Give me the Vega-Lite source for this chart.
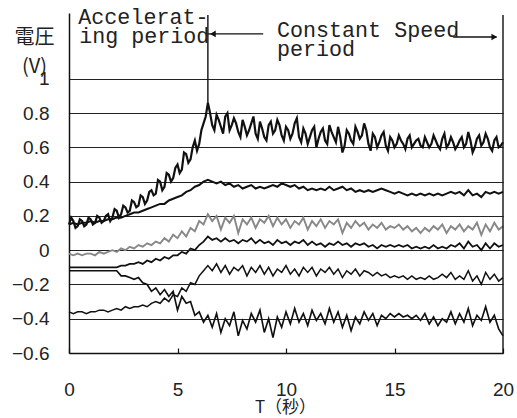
{
"$schema": "https://vega.github.io/schema/vega-lite/v6.json",
"width": 434, "height": 340,
"autosize": {"type": "none"},
"padding": {"left": 69, "top": 13, "right": 14, "bottom": 65},
"background": "white",
"config": {"view": {"stroke": null}, "axis": {"labelFont": "Liberation Sans", "labelColor": "#222"}},
"datasets": {
"sig": [
{"t":0,"A":0.15,"B":0.15,"C":-0.02,"D":-0.1,"E":-0.12,"F":-0.36},
{"t":0.2,"A":0.17,"B":0.16,"C":-0.03,"D":-0.1,"E":-0.12,"F":-0.37},
{"t":0.4,"A":0.14,"B":0.15,"C":-0.02,"D":-0.1,"E":-0.12,"F":-0.36},
{"t":0.6,"A":0.17,"B":0.16,"C":-0.03,"D":-0.1,"E":-0.12,"F":-0.36},
{"t":0.8,"A":0.15,"B":0.16,"C":-0.02,"D":-0.1,"E":-0.12,"F":-0.37},
{"t":1.0,"A":0.18,"B":0.17,"C":-0.02,"D":-0.1,"E":-0.12,"F":-0.36},
{"t":1.2,"A":0.16,"B":0.16,"C":-0.03,"D":-0.1,"E":-0.12,"F":-0.36},
{"t":1.4,"A":0.19,"B":0.17,"C":-0.01,"D":-0.1,"E":-0.12,"F":-0.35},
{"t":1.6,"A":0.17,"B":0.17,"C":-0.02,"D":-0.1,"E":-0.12,"F":-0.35},
{"t":1.8,"A":0.21,"B":0.18,"C":-0.01,"D":-0.1,"E":-0.12,"F":-0.36},
{"t":2.0,"A":0.19,"B":0.18,"C":0.0,"D":-0.1,"E":-0.12,"F":-0.35},
{"t":2.2,"A":0.23,"B":0.19,"C":-0.01,"D":-0.1,"E":-0.12,"F":-0.34},
{"t":2.4,"A":0.21,"B":0.19,"C":0.01,"D":-0.09,"E":-0.15,"F":-0.35},
{"t":2.6,"A":0.25,"B":0.2,"C":0.0,"D":-0.09,"E":-0.15,"F":-0.33},
{"t":2.8,"A":0.23,"B":0.21,"C":0.02,"D":-0.08,"E":-0.16,"F":-0.34},
{"t":3.0,"A":0.28,"B":0.22,"C":0.01,"D":-0.08,"E":-0.17,"F":-0.33},
{"t":3.2,"A":0.26,"B":0.22,"C":0.03,"D":-0.07,"E":-0.16,"F":-0.33},
{"t":3.4,"A":0.31,"B":0.23,"C":0.02,"D":-0.08,"E":-0.19,"F":-0.32},
{"t":3.6,"A":0.29,"B":0.24,"C":0.04,"D":-0.06,"E":-0.2,"F":-0.33},
{"t":3.8,"A":0.35,"B":0.25,"C":0.03,"D":-0.07,"E":-0.24,"F":-0.31},
{"t":4.0,"A":0.33,"B":0.26,"C":0.05,"D":-0.05,"E":-0.22,"F":-0.3},
{"t":4.2,"A":0.4,"B":0.27,"C":0.04,"D":-0.06,"E":-0.26,"F":-0.31},
{"t":4.4,"A":0.37,"B":0.27,"C":0.07,"D":-0.04,"E":-0.23,"F":-0.28},
{"t":4.6,"A":0.44,"B":0.29,"C":0.05,"D":-0.05,"E":-0.27,"F":-0.3},
{"t":4.8,"A":0.42,"B":0.3,"C":0.09,"D":-0.03,"E":-0.24,"F":-0.26},
{"t":5.0,"A":0.5,"B":0.31,"C":0.07,"D":-0.03,"E":-0.35,"F":-0.27},
{"t":5.2,"A":0.47,"B":0.32,"C":0.11,"D":-0.01,"E":-0.27,"F":-0.22},
{"t":5.4,"A":0.56,"B":0.34,"C":0.08,"D":-0.02,"E":-0.31,"F":-0.24},
{"t":5.6,"A":0.53,"B":0.35,"C":0.13,"D":0.01,"E":-0.3,"F":-0.19},
{"t":5.8,"A":0.64,"B":0.37,"C":0.11,"D":0.0,"E":-0.38,"F":-0.2},
{"t":6.0,"A":0.62,"B":0.38,"C":0.17,"D":0.03,"E":-0.36,"F":-0.15},
{"t":6.2,"A":0.74,"B":0.4,"C":0.15,"D":0.05,"E":-0.42,"F":-0.12},
{"t":6.4,"A":0.86,"B":0.41,"C":0.21,"D":0.08,"E":-0.38,"F":-0.09},
{"t":6.6,"A":0.73,"B":0.4,"C":0.17,"D":0.06,"E":-0.45,"F":-0.12},
{"t":6.8,"A":0.79,"B":0.39,"C":0.2,"D":0.07,"E":-0.37,"F":-0.08},
{"t":7.0,"A":0.72,"B":0.4,"C":0.12,"D":0.05,"E":-0.48,"F":-0.13},
{"t":7.2,"A":0.78,"B":0.38,"C":0.19,"D":0.07,"E":-0.4,"F":-0.09},
{"t":7.4,"A":0.7,"B":0.39,"C":0.16,"D":0.05,"E":-0.44,"F":-0.14},
{"t":7.6,"A":0.77,"B":0.37,"C":0.2,"D":0.06,"E":-0.36,"F":-0.1},
{"t":7.8,"A":0.69,"B":0.38,"C":0.1,"D":0.04,"E":-0.5,"F":-0.12},
{"t":8.0,"A":0.76,"B":0.36,"C":0.18,"D":0.06,"E":-0.41,"F":-0.09},
{"t":8.2,"A":0.67,"B":0.37,"C":0.15,"D":0.05,"E":-0.46,"F":-0.15},
{"t":8.4,"A":0.74,"B":0.38,"C":0.19,"D":0.07,"E":-0.37,"F":-0.1},
{"t":8.6,"A":0.68,"B":0.36,"C":0.13,"D":0.04,"E":-0.42,"F":-0.13},
{"t":8.8,"A":0.75,"B":0.37,"C":0.18,"D":0.06,"E":-0.35,"F":-0.09},
{"t":9.0,"A":0.66,"B":0.36,"C":0.16,"D":0.04,"E":-0.48,"F":-0.14},
{"t":9.2,"A":0.73,"B":0.37,"C":0.2,"D":0.05,"E":-0.4,"F":-0.1},
{"t":9.4,"A":0.68,"B":0.38,"C":0.14,"D":0.03,"E":-0.51,"F":-0.15},
{"t":9.6,"A":0.76,"B":0.37,"C":0.19,"D":0.06,"E":-0.39,"F":-0.11},
{"t":9.8,"A":0.67,"B":0.39,"C":0.15,"D":0.04,"E":-0.45,"F":-0.13},
{"t":10.0,"A":0.72,"B":0.38,"C":0.18,"D":0.05,"E":-0.36,"F":-0.09},
{"t":10.2,"A":0.65,"B":0.37,"C":0.13,"D":0.03,"E":-0.43,"F":-0.14},
{"t":10.4,"A":0.74,"B":0.38,"C":0.17,"D":0.05,"E":-0.34,"F":-0.11},
{"t":10.6,"A":0.66,"B":0.36,"C":0.15,"D":0.04,"E":-0.42,"F":-0.15},
{"t":10.8,"A":0.71,"B":0.37,"C":0.19,"D":0.06,"E":-0.37,"F":-0.1},
{"t":11.0,"A":0.62,"B":0.35,"C":0.12,"D":0.03,"E":-0.44,"F":-0.13},
{"t":11.2,"A":0.7,"B":0.36,"C":0.17,"D":0.05,"E":-0.35,"F":-0.1},
{"t":11.4,"A":0.6,"B":0.35,"C":0.14,"D":0.03,"E":-0.41,"F":-0.15},
{"t":11.6,"A":0.69,"B":0.36,"C":0.18,"D":0.04,"E":-0.37,"F":-0.11},
{"t":11.8,"A":0.64,"B":0.35,"C":0.13,"D":0.02,"E":-0.43,"F":-0.13},
{"t":12.0,"A":0.73,"B":0.37,"C":0.17,"D":0.04,"E":-0.34,"F":-0.1},
{"t":12.2,"A":0.66,"B":0.35,"C":0.15,"D":0.03,"E":-0.42,"F":-0.14},
{"t":12.4,"A":0.72,"B":0.36,"C":0.18,"D":0.05,"E":-0.36,"F":-0.11},
{"t":12.6,"A":0.57,"B":0.37,"C":0.1,"D":0.03,"E":-0.45,"F":-0.16},
{"t":12.8,"A":0.7,"B":0.35,"C":0.16,"D":0.04,"E":-0.38,"F":-0.12},
{"t":13.0,"A":0.64,"B":0.36,"C":0.13,"D":0.02,"E":-0.47,"F":-0.14},
{"t":13.2,"A":0.72,"B":0.34,"C":0.17,"D":0.04,"E":-0.39,"F":-0.11},
{"t":13.4,"A":0.65,"B":0.35,"C":0.14,"D":0.03,"E":-0.43,"F":-0.15},
{"t":13.6,"A":0.74,"B":0.34,"C":0.16,"D":0.04,"E":-0.36,"F":-0.12},
{"t":13.8,"A":0.62,"B":0.35,"C":0.12,"D":0.02,"E":-0.41,"F":-0.13},
{"t":14.0,"A":0.68,"B":0.34,"C":0.15,"D":0.03,"E":-0.37,"F":-0.15},
{"t":14.2,"A":0.6,"B":0.35,"C":0.13,"D":0.01,"E":-0.44,"F":-0.13},
{"t":14.4,"A":0.67,"B":0.36,"C":0.16,"D":0.03,"E":-0.38,"F":-0.15},
{"t":14.6,"A":0.61,"B":0.35,"C":0.12,"D":0.02,"E":-0.4,"F":-0.14},
{"t":14.8,"A":0.66,"B":0.34,"C":0.14,"D":0.03,"E":-0.37,"F":-0.16},
{"t":15.0,"A":0.6,"B":0.33,"C":0.13,"D":0.02,"E":-0.39,"F":-0.15},
{"t":15.2,"A":0.67,"B":0.34,"C":0.15,"D":0.03,"E":-0.37,"F":-0.16},
{"t":15.4,"A":0.62,"B":0.33,"C":0.12,"D":0.02,"E":-0.39,"F":-0.15},
{"t":15.6,"A":0.65,"B":0.32,"C":0.14,"D":0.03,"E":-0.38,"F":-0.17},
{"t":15.8,"A":0.6,"B":0.33,"C":0.11,"D":0.01,"E":-0.4,"F":-0.15},
{"t":16.0,"A":0.64,"B":0.32,"C":0.13,"D":0.02,"E":-0.38,"F":-0.17},
{"t":16.2,"A":0.61,"B":0.33,"C":0.1,"D":0.01,"E":-0.41,"F":-0.16},
{"t":16.4,"A":0.66,"B":0.32,"C":0.13,"D":0.02,"E":-0.37,"F":-0.17},
{"t":16.6,"A":0.6,"B":0.33,"C":0.11,"D":0.01,"E":-0.43,"F":-0.15},
{"t":16.8,"A":0.67,"B":0.32,"C":0.14,"D":0.03,"E":-0.39,"F":-0.17},
{"t":17.0,"A":0.61,"B":0.33,"C":0.12,"D":0.01,"E":-0.44,"F":-0.16},
{"t":17.2,"A":0.65,"B":0.32,"C":0.15,"D":0.02,"E":-0.4,"F":-0.14},
{"t":17.4,"A":0.6,"B":0.33,"C":0.1,"D":0.01,"E":-0.42,"F":-0.16},
{"t":17.6,"A":0.66,"B":0.34,"C":0.14,"D":0.03,"E":-0.36,"F":-0.13},
{"t":17.8,"A":0.59,"B":0.33,"C":0.12,"D":0.02,"E":-0.43,"F":-0.17},
{"t":18.0,"A":0.64,"B":0.34,"C":0.15,"D":0.04,"E":-0.37,"F":-0.15},
{"t":18.2,"A":0.6,"B":0.32,"C":0.11,"D":0.01,"E":-0.42,"F":-0.17},
{"t":18.4,"A":0.69,"B":0.35,"C":0.14,"D":0.05,"E":-0.34,"F":-0.12},
{"t":18.6,"A":0.57,"B":0.32,"C":0.12,"D":0.02,"E":-0.44,"F":-0.18},
{"t":18.8,"A":0.65,"B":0.33,"C":0.16,"D":0.03,"E":-0.38,"F":-0.15},
{"t":19.0,"A":0.61,"B":0.31,"C":0.09,"D":0.0,"E":-0.41,"F":-0.2},
{"t":19.2,"A":0.68,"B":0.34,"C":0.15,"D":0.04,"E":-0.33,"F":-0.13},
{"t":19.4,"A":0.6,"B":0.33,"C":0.11,"D":0.01,"E":-0.42,"F":-0.17},
{"t":19.6,"A":0.64,"B":0.34,"C":0.16,"D":0.04,"E":-0.38,"F":-0.14},
{"t":19.8,"A":0.6,"B":0.33,"C":0.12,"D":0.02,"E":-0.46,"F":-0.18},
{"t":20.0,"A":0.63,"B":0.34,"C":0.14,"D":0.03,"E":-0.5,"F":-0.16},
{"t":0.1,"A":0.19},{"t":0.3,"A":0.13},{"t":0.5,"A":0.18},{"t":0.7,"A":0.14},{"t":0.9,"A":0.19},
{"t":1.1,"A":0.15},{"t":1.3,"A":0.2},{"t":1.5,"A":0.16},{"t":1.7,"A":0.2},{"t":1.9,"A":0.17},
{"t":2.1,"A":0.24},{"t":2.3,"A":0.19},{"t":2.5,"A":0.26},{"t":2.7,"A":0.22},{"t":2.9,"A":0.29},
{"t":3.1,"A":0.25},{"t":3.3,"A":0.32},{"t":3.5,"A":0.27},{"t":3.7,"A":0.34},{"t":3.9,"A":0.32},
{"t":4.1,"A":0.41},{"t":4.3,"A":0.35},{"t":4.5,"A":0.45},{"t":4.7,"A":0.4},{"t":4.9,"A":0.48},
{"t":5.1,"A":0.45},{"t":5.3,"A":0.57},{"t":5.5,"A":0.51},{"t":5.7,"A":0.6},{"t":5.9,"A":0.58},
{"t":6.1,"A":0.7},{"t":6.3,"A":0.78},{"t":6.5,"A":0.8},{"t":6.7,"A":0.7},{"t":6.9,"A":0.76},
{"t":7.1,"A":0.68},{"t":7.3,"A":0.8},{"t":7.5,"A":0.73},{"t":7.7,"A":0.74},{"t":7.9,"A":0.66},
{"t":8.1,"A":0.72},{"t":8.3,"A":0.7},{"t":8.5,"A":0.78},{"t":8.7,"A":0.65},{"t":8.9,"A":0.71},
{"t":9.1,"A":0.64},{"t":9.3,"A":0.75},{"t":9.5,"A":0.7},{"t":9.7,"A":0.73},{"t":9.9,"A":0.64},
{"t":10.1,"A":0.7},{"t":10.3,"A":0.68},{"t":10.5,"A":0.77},{"t":10.7,"A":0.63},{"t":10.9,"A":0.68},
{"t":11.1,"A":0.66},{"t":11.3,"A":0.72},{"t":11.5,"A":0.65},{"t":11.7,"A":0.71},{"t":11.9,"A":0.62},
{"t":12.1,"A":0.69},{"t":12.3,"A":0.63},{"t":12.5,"A":0.66},{"t":12.7,"A":0.61},{"t":12.9,"A":0.68},
{"t":13.1,"A":0.62},{"t":13.3,"A":0.69},{"t":13.5,"A":0.67},{"t":13.7,"A":0.7},{"t":13.9,"A":0.58},
{"t":14.1,"A":0.66},{"t":14.3,"A":0.63},{"t":14.5,"A":0.69},{"t":14.7,"A":0.58},{"t":14.9,"A":0.64},
{"t":15.1,"A":0.62},{"t":15.3,"A":0.64},{"t":15.5,"A":0.59},{"t":15.7,"A":0.67},{"t":15.9,"A":0.62},
{"t":16.1,"A":0.65},{"t":16.3,"A":0.6},{"t":16.5,"A":0.63},{"t":16.7,"A":0.62},{"t":16.9,"A":0.64},
{"t":17.1,"A":0.59},{"t":17.3,"A":0.68},{"t":17.5,"A":0.62},{"t":17.7,"A":0.63},{"t":17.9,"A":0.61},
{"t":18.1,"A":0.66},{"t":18.3,"A":0.62},{"t":18.5,"A":0.64},{"t":18.7,"A":0.6},{"t":18.9,"A":0.67},
{"t":19.1,"A":0.63},{"t":19.3,"A":0.65},{"t":19.5,"A":0.58},{"t":19.7,"A":0.66},{"t":19.9,"A":0.61}
],
"rules": [
{"t":6.4,"t2":6.4,"v":0.84,"v2":1.372},
{"t":20,"t2":20,"v":-0.6,"v2":1.372},
{"t":6.4,"t2":8.95,"v":1.262,"v2":1.262},
{"t":17.7,"t2":19.7,"v":1.244,"v2":1.244}
],
"heads": [
{"t":6.63,"v":1.262,"dir":"triangle-left"},
{"t":19.6,"v":1.244,"dir":"triangle-right"}
],
"notes": [
{"t":0.43,"v":1.319,"label":"Accelerat-"},
{"t":0.47,"v":1.209,"label":"ing period"},
{"t":9.585,"v":1.244,"label":"Constant Speed"},
{"t":9.585,"v":1.133,"label":"period"}
]
},
"layer": [
{
"data": {"name": "sig"},
"transform": [{"fold": ["A","B","C","D","E","F"], "as": ["series","v"]}, {"filter": "isValid(datum.v)"}],
"mark": {"type": "line", "interpolate": "linear"},
"encoding": {
"x": {"field": "t", "type": "quantitative", "scale": {"domain": [0,20], "nice": false, "zero": false},
 "axis": {"values": [0,5,10,15,20], "title": "T（秒）", "titleFont": "Noto Sans CJK JP", "titleFontSize": 17, "titleFontWeight": "normal", "titleColor": "#222", "titleX": 216, "titleY": 54, "titleAlign": "center", "titleBaseline": "middle", "labelFontSize": 19, "labelPadding": 32, "labelFlush": false, "labelOverlap": false, "domainColor": "#111", "domainWidth": 1.5, "ticks": true, "tickSize": -5, "tickColor": "#111", "tickWidth": 1.2, "grid": false}},
"y": {"field": "v", "type": "quantitative", "scale": {"domain": [-0.6,1.384], "nice": false, "zero": false},
 "axis": {"values": [-0.6,-0.4,-0.2,0,0.2,0.4,0.6,0.8,1], "format": "~g", "grid": true, "gridColor": "#222", "gridWidth": 1.2, "ticks": false, "labelPadding": 20, "labelFontSize": 19, "domainColor": "#111", "domainWidth": 1.5, "title": ["電圧","(V)"], "titleAngle": 0, "titleX": -35, "titleY": 24, "titleAlign": "center", "titleBaseline": "middle", "titleFont": "Noto Sans CJK JP", "titleFontSize": 20, "titleFontWeight": "normal", "titleColor": "#222", "titleLineHeight": 29}},
"color": {"field": "series", "type": "nominal", "scale": {"domain": ["A","B","C","D","E","F"], "range": ["#111","#111","#888","#111","#111","#111"]}, "legend": null},
"strokeWidth": {"field": "series", "type": "nominal", "scale": {"domain": ["A","B","C","D","E","F"], "range": [2.2,1.5,1.3,1.6,1.3,1.3]}, "legend": null}
}
},
{
"data": {"name": "rules"},
"mark": {"type": "rule", "color": "#111", "strokeWidth": 1.4},
"encoding": {
"x": {"field": "t", "type": "quantitative"},
"x2": {"field": "t2"},
"y": {"field": "v", "type": "quantitative"},
"y2": {"field": "v2"}
}
},
{
"data": {"name": "heads"},
"mark": {"type": "point", "filled": true, "color": "#111", "size": 45, "opacity": 1},
"encoding": {
"x": {"field": "t", "type": "quantitative"},
"y": {"field": "v", "type": "quantitative"},
"shape": {"field": "dir", "type": "nominal", "scale": null}
}
},
{
"data": {"name": "notes"},
"mark": {"type": "text", "font": "Liberation Mono", "fontSize": 21.7, "align": "left", "baseline": "alphabetic", "color": "#222"},
"encoding": {
"x": {"field": "t", "type": "quantitative"},
"y": {"field": "v", "type": "quantitative"},
"text": {"field": "label"}
}
}
]
}
